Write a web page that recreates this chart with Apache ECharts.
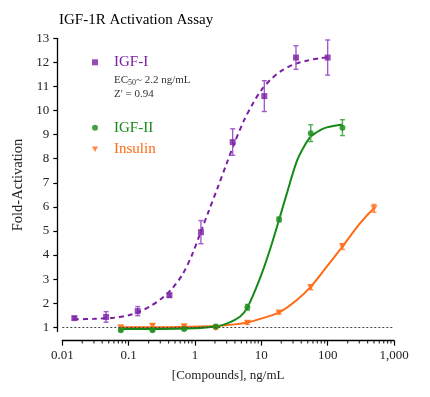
<!DOCTYPE html>
<html>
<head>
<meta charset="utf-8">
<script src="https://cdn.jsdelivr.net/npm/echarts@6/dist/echarts.min.js"></script>
<style>
  html, body { margin: 0; padding: 0; background: #fff; }
  #chart { width: 430px; height: 397px; }
</style>
</head>
<body>
<div id="chart"></div>
<script>
// measured points (3-fold dilutions, ng/mL), mean and error bar half-height
const igf1Conc = [0.0152, 0.0457, 0.137, 0.412, 1.23, 3.70, 11.1, 33.3, 100];
const igf1Mean = [1.38, 1.43, 1.67, 2.33, 4.95, 8.69, 10.6, 12.2, 12.2];
const igf1Err  = [0.06, 0.22, 0.19, 0.08, 0.48, 0.55, 0.64, 0.49, 0.73];

const igf2Conc = [0.0762, 0.229, 0.686, 2.06, 6.17, 18.5, 55.6, 167];
const igf2Mean = [0.88, 0.88, 0.93, 1.03, 1.83, 5.48, 9.06, 9.29];
const igf2Err  = [0.04, 0.04, 0.04, 0.06, 0.12, 0.10, 0.35, 0.33];

const insConc = [0.0762, 0.229, 0.686, 2.06, 6.17, 18.5, 55.6, 167, 500];
const insMean = [1.00, 1.06, 1.04, 0.97, 1.19, 1.61, 2.66, 4.35, 5.94];
const insErr  = [0.04, 0.08, 0.06, 0.05, 0.07, 0.06, 0.10, 0.12, 0.16];

// fitted curves
const fit1X = [0.015, 0.03, 0.06, 0.1, 0.15, 0.22, 0.3, 0.45, 0.65, 0.9, 1.2, 1.6, 2.2, 3.0, 4.0, 5.5, 7.5, 10, 14, 20, 30, 50, 75, 100];
const fit1Y = [1.33, 1.35, 1.40, 1.50, 1.66, 1.90, 2.15, 2.60, 3.20, 4.00, 4.90, 5.80, 6.80, 7.80, 8.70, 9.60, 10.3, 10.85, 11.3, 11.65, 11.9, 12.08, 12.17, 12.21];

const fit2X = [0.076, 0.3, 1.0, 2.0, 3.0, 4.8, 6.2, 9.6, 13.6, 18.7, 24.2, 34.3, 45, 55.8, 75, 97, 170];
const fit2Y = [0.93, 0.93, 0.96, 1.03, 1.15, 1.45, 1.83, 3.05, 4.25, 5.50, 6.55, 7.90, 8.55, 8.92, 9.17, 9.30, 9.42];

const fit3X = [0.076, 0.23, 0.68, 2.06, 4.0, 6.2, 9.6, 18.7, 34.3, 55.8, 97, 167, 309, 500];
const fit3Y = [1.00, 1.00, 1.02, 1.05, 1.12, 1.20, 1.35, 1.62, 2.13, 2.69, 3.52, 4.35, 5.32, 5.94];

// axis ticks
const yTicks = [1, 2, 3, 4, 5, 6, 7, 8, 9, 10, 11, 12, 13];
const decades = [0.01, 0.1, 1, 10, 100];
const minorSteps = [2, 3, 4, 5, 6, 7, 8, 9];
const xMinorTicks = decades.flatMap(d => minorSteps.map(m => +(d * m).toPrecision(3)));

const FONT = 'Liberation Serif';
const Y_MIN = 0.82;
const purple = '#7A1FA2', green = '#168A16', orange = '#FF6A13';

const chart = echarts.init(document.getElementById('chart'));

function pairs(xs, ys) {
  return xs.map((x, i) => [x, ys[i]]);
}
function bars(xs, ys, es) {
  return xs.map((x, i) => [x, ys[i] - es[i], ys[i] + es[i]]);
}
function errorBars(name, data, color) {
  return {
    type: 'custom', name: name, data: data, z: 3, silent: true,
    encode: {x: 0, y: [1, 2]},
    renderItem: function (params, api) {
      const lo = api.coord([api.value(0), api.value(1)]);
      const hi = api.coord([api.value(0), api.value(2)]);
      const w = 2.5;
      const st = {stroke: color, lineWidth: 1.4};
      return {
        type: 'group',
        children: [
          {type: 'line', shape: {x1: lo[0], y1: lo[1], x2: hi[0], y2: hi[1]}, style: st},
          {type: 'line', shape: {x1: lo[0] - w, y1: lo[1], x2: lo[0] + w, y2: lo[1]}, style: st},
          {type: 'line', shape: {x1: hi[0] - w, y1: hi[1], x2: hi[0] + w, y2: hi[1]}, style: st}
        ]
      };
    }
  };
}
function legendItem(name, icon, color, top, w, h) {
  return {
    left: 92, top: top, padding: 0, selectedMode: false,
    itemWidth: w, itemHeight: h,
    data: [{name: name, icon: icon}],
    textStyle: {fontFamily: FONT, fontSize: 15, color: color, padding: [0, 0, 0, 11]}
  };
}
function fitLine(name, data, color, dash) {
  return {
    type: 'line', name: name, data: data, z: 2,
    showSymbol: false, smooth: 0.3, silent: true,
    lineStyle: {color: color, width: 2, type: dash || 'solid'}
  };
}

const triDown = 'path://M0,0L10,0L5,9Z';

const option = {
  animation: false,
  backgroundColor: '#fff',
  title: [{
    text: 'IGF-1R Activation Assay',
    left: 59, top: 13, padding: 0,
    textStyle: {fontFamily: FONT, fontSize: 15, fontWeight: 'normal', color: '#000', lineHeight: 15}
  }, {
    text: 'EC{sub|50}~ 2.2 ng/mL\nZ\' = 0.94',
    left: 114, top: 73, padding: 0,
    textStyle: {
      fontFamily: FONT, fontSize: 11, fontWeight: 'normal', color: '#333', lineHeight: 14,
      rich: {sub: {fontFamily: FONT, fontSize: 8, lineHeight: 8, verticalAlign: 'bottom', color: '#333'}}
    }
  }],
  legend: [
    legendItem('IGF-I', 'rect', purple, 54.8, 6, 6),
    legendItem('IGF-II', 'circle', green, 120.2, 6, 6),
    legendItem('Insulin', triDown, orange, 141.8, 6, 6)
  ],
  grid: {left: 62.3, right: 36, top: 38.3, bottom: 65.4, containLabel: false},
  xAxis: {
    type: 'log', logBase: 10, min: 0.01, max: 1000,
    offset: 9,
    name: '[Compounds], ng/mL', nameLocation: 'middle', nameGap: 28.5,
    nameTextStyle: {fontFamily: FONT, fontSize: 13, color: '#222'},
    axisLine: {lineStyle: {color: '#000', width: 1.3}},
    axisTick: {length: 5, lineStyle: {color: '#000', width: 1.2}},
    axisLabel: {
      fontFamily: FONT, fontSize: 13, color: '#222', margin: 8,
      formatter: v => v.toLocaleString('en-US')
    },
    splitLine: {show: false}
  },
  yAxis: {
    type: 'value', min: Y_MIN, max: 13,
    offset: 5,
    name: 'Fold-Activation', nameLocation: 'middle', nameGap: 24,
    nameTextStyle: {fontFamily: FONT, fontSize: 14.5, color: '#222'},
    axisLine: {show: true, lineStyle: {color: '#000', width: 1.3}},
    axisTick: {show: true, length: 4, customValues: yTicks, lineStyle: {color: '#000', width: 1.2}},
    axisLabel: {fontFamily: FONT, fontSize: 13, color: '#222', margin: 8, customValues: yTicks},
    splitLine: {show: false}
  },
  series: [
    // minor ticks on the log axis
    {
      type: 'scatter', name: 'minor', silent: true, clip: false, z: 1,
      data: xMinorTicks.map(v => [v, Y_MIN]),
      symbol: 'rect', symbolSize: [1.2, 3], symbolOffset: [0, 10.5],
      itemStyle: {color: '#000'}
    },
    Object.assign(fitLine('fitInsulin', pairs(fit3X, fit3Y), orange), {
      markLine: {
        silent: true, symbol: 'none', label: {show: false},
        lineStyle: {color: '#444', type: [2, 2], width: 1.2},
        data: [{yAxis: 1}]
      }
    }),
    fitLine('fitIGF2', pairs(fit2X, fit2Y), green),
    fitLine('fitIGF1', pairs(fit1X, fit1Y), purple, [5, 4]),
    errorBars('errIns', bars(insConc, insMean, insErr), '#FF8A45'),
    errorBars('errIGF2', bars(igf2Conc, igf2Mean, igf2Err), '#4EAE4E'),
    errorBars('errIGF1', bars(igf1Conc, igf1Mean, igf1Err), '#A35BCB'),
    {
      type: 'scatter', name: 'Insulin', data: pairs(insConc, insMean), z: 4,
      symbol: triDown, symbolSize: [7, 6], itemStyle: {color: orange}
    },
    {
      type: 'scatter', name: 'IGF-II', data: pairs(igf2Conc, igf2Mean), z: 5,
      symbol: 'circle', symbolSize: 6, itemStyle: {color: green}
    },
    {
      type: 'scatter', name: 'IGF-I', data: pairs(igf1Conc, igf1Mean), z: 6,
      symbol: 'rect', symbolSize: 6, itemStyle: {color: purple}
    }
  ]
};

chart.setOption(option);
</script>
</body>
</html>
